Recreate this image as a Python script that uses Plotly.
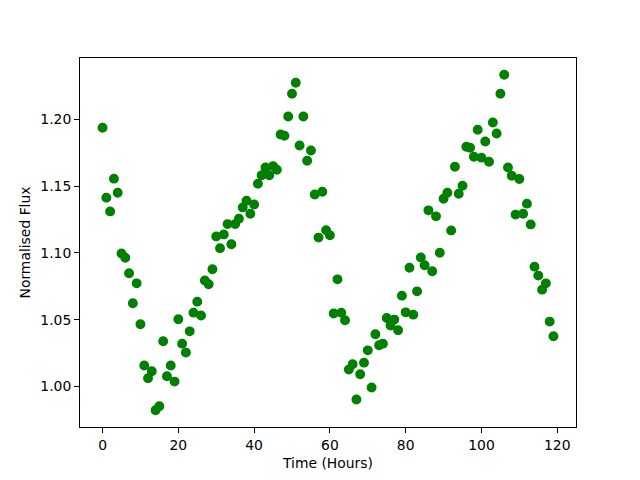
import plotly.graph_objects as go

time_hours = list(range(120))
flux = [
    1.1936, 1.1413, 1.1310, 1.1555, 1.1450, 1.0996, 1.0964, 1.0847, 1.0623, 1.0772,
    1.0466, 1.0157, 1.0062, 1.0114, 0.9823, 0.9853, 1.0339, 1.0077, 1.0157, 1.0037,
    1.0503, 1.0321, 1.0254, 1.0413, 1.0553, 1.0635, 1.0531, 1.0794, 1.0765, 1.0877,
    1.1123, 1.1034, 1.1138, 1.1215, 1.1064, 1.1215, 1.1256, 1.1340, 1.1390, 1.1293,
    1.1362, 1.1517, 1.1580, 1.1639, 1.1580, 1.1649, 1.1622, 1.1886, 1.1876, 1.2020,
    1.2190, 1.2272, 1.1803, 1.2020, 1.1689, 1.1766, 1.1437, 1.1114, 1.1457, 1.1170,
    1.1131, 1.0546, 1.0802, 1.0553, 1.0496, 1.0127, 1.0167, 0.9903, 1.0092, 1.0179,
    1.0271, 0.9993, 1.0391, 1.0309, 1.0321, 1.0513, 1.0456, 1.0501, 1.0421, 1.0680,
    1.0555, 1.0889, 1.0538, 1.0712, 1.0966, 1.0907, 1.1318, 1.0862, 1.1273, 1.1001,
    1.1405, 1.1450, 1.1168, 1.1644, 1.1442, 1.1502, 1.1794, 1.1786, 1.1719, 1.1921,
    1.1712, 1.1833, 1.1682, 1.1975, 1.1893, 1.2190, 1.2332, 1.1639, 1.1577, 1.1286,
    1.1552, 1.1293, 1.1368, 1.1213, 1.0897, 1.0830, 1.0725, 1.0772, 1.0486, 1.0376,
]
x_ticks = [0, 20, 40, 60, 80, 100, 120]
y_ticks = [1.00, 1.05, 1.10, 1.15, 1.20]

xmin, xmax = min(time_hours), max(time_hours)
ymin, ymax = min(flux), max(flux)
xm = (xmax - xmin) * 0.05
ym = (ymax - ymin) * 0.05

fig = go.Figure()
fig.add_trace(go.Scatter(
    x=time_hours, y=flux, mode="markers",
    marker=dict(color="#008000", size=8.5, line=dict(color="#008000", width=1.4)),
    showlegend=False,
))

font = dict(family="DejaVu Sans", size=13.9, color="black")
fig.update_layout(
    width=640, height=480,
    margin=dict(l=72, r=72, t=49.6, b=60.8),
    paper_bgcolor="white", plot_bgcolor="white",
    font=font,
    xaxis=dict(
        range=[xmin - xm, xmax + xm], tickvals=x_ticks,
        ticks="outside", ticklen=4.9, tickwidth=1.1, tickcolor="black",
        showline=True, linecolor="black", linewidth=1.1, mirror=True,
        showgrid=False, zeroline=False,
        title=dict(text="Time (Hours)", font=font, standoff=6),
    ),
    yaxis=dict(
        range=[ymin - ym, ymax + ym], tickvals=y_ticks, tickformat=".2f",
        ticks="outside", ticklen=4.9, tickwidth=1.1, tickcolor="black",
        showline=True, linecolor="black", linewidth=1.1, mirror=True,
        showgrid=False, zeroline=False,
        title=dict(text="Normalised Flux", font=font, standoff=6),
    ),
)
fig.write_html("out.html")
